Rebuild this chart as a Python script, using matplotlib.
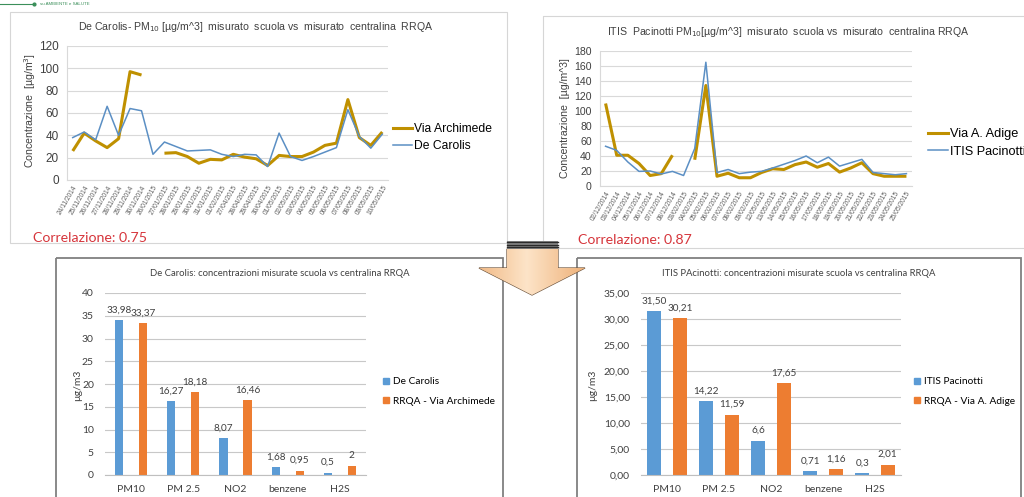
import numpy as np
import matplotlib.pyplot as plt
from matplotlib.patches import Polygon, Rectangle
from matplotlib.lines import Line2D
from matplotlib.ticker import FuncFormatter

W, H = 1024, 497

# --- top left: De Carolis daily PM10
dc_dates = ["24/11/2014", "25/11/2014", "26/11/2014", "27/11/2014", "28/11/2014",
            "29/11/2014", "30/11/2014", "26/01/2015", "27/01/2015", "28/01/2015",
            "29/01/2015", "30/01/2015", "31/01/2015", "01/02/2015", "27/04/2015",
            "28/04/2015", "29/04/2015", "30/04/2015", "01/05/2015", "02/05/2015",
            "03/05/2015", "04/05/2015", "05/05/2015", "06/05/2015", "07/05/2015",
            "08/05/2015", "09/05/2015", "10/05/2015"]
dc_archimede = [26, 42, 35, 29, 37, 97, 94, np.nan, 24, 24.5, 21, 15, 18.5, 18,
                23, 20.5, 19, 13, 22, 21, 21, 25, 31, 33, 72, 38, 31, 43]
dc_carolis = [38, 43, 36, 66, 40, 64, 62, 23, 34, 30, 26, 26.5, 27, 23,
              21, 23, 22.5, 12, 42, 21, 17.5, 21, 25, 29, 63, 39, 28.5, 41]

# --- top right: ITIS Pacinotti daily PM10
pac_dates = ["02/12/2014", "03/12/2014", "04/12/2014", "05/12/2014", "06/12/2014",
             "07/12/2014", "08/12/2014", "03/02/2015", "04/02/2015", "05/02/2015",
             "06/02/2015", "07/02/2015", "08/02/2015", "09/02/2015", "12/05/2015",
             "13/05/2015", "14/05/2015", "15/05/2015", "16/05/2015", "17/05/2015",
             "18/05/2015", "19/05/2015", "20/05/2015", "21/05/2015", "22/05/2015",
             "23/05/2015", "24/05/2015", "25/05/2015"]
pac_adige = [110, 41, 41, 30, 14, 16.5, 41, np.nan, 35, 134, 13, 17, 11, 11,
             18, 23, 22, 28.5, 32, 25, 30, 18.5, 24, 31, 16.5, 13, 13, 13]
pac_itis = [53, 47.5, 32, 19.5, 20, 16, 19.5, 14, 50, 165, 18, 22, 16.5, 18.5,
            19.5, 24, 29, 34, 40, 31, 38.5, 26.5, 31, 35.5, 18, 16.5, 15, 16.5]

# --- bottom: mean concentrations
pollutants = ["PM10", "PM 2.5", "NO2", "benzene", "H2S"]
dc_school = [33.98, 16.27, 8.07, 1.68, 0.5]
dc_station = [33.37, 18.18, 16.46, 0.95, 2]
dc_school_txt = ["33,98", "16,27", "8,07", "1,68", "0,5"]
dc_station_txt = ["33,37", "18,18", "16,46", "0,95", "2"]
pac_school = [31.50, 14.22, 6.6, 0.71, 0.3]
pac_station = [30.21, 11.59, 17.65, 1.16, 2.01]
pac_school_txt = ["31,50", "14,22", "6,6", "0,71", "0,3"]
pac_station_txt = ["30,21", "11,59", "17,65", "1,16", "2,01"]

GOLD = "#bf9000"
LBLUE = "#5b8fc4"
BAR_BLUE = "#5b9bd5"
BAR_ORANGE = "#ed7d31"
GRID = "#d9d9d9"
TXT = "#404040"
ARIAL = "Liberation Sans"
CALIBRI = "Lato"


def rect(l, t, r, b):
    return [l / W, 1 - b / H, (r - l) / W, (b - t) / H]


def fx(px):
    return px / W


def fy(py):
    return 1 - py / H


fig = plt.figure(figsize=(W / 100, H / 100), dpi=100)


def line_panel(box, dates, gold, blue, ymax, title, title_xy, ylabel, ylabel_xy,
               names, leg_xy, tick_fs, leg_fs):
    ax = fig.add_axes(rect(*box))
    x = np.arange(len(dates))
    ax.plot(x, gold, color=GOLD, lw=2.2, solid_capstyle="butt")
    ax.plot(x, blue, color=LBLUE, lw=1.1)
    ax.set_xlim(-0.5, len(dates) - 0.5)
    ax.set_ylim(0, ymax)
    ax.set_yticks(np.arange(0, ymax + 1, 20))
    ax.set_xticks(x)
    ax.set_xticklabels(dates, rotation=60, ha="right", rotation_mode="anchor",
                       fontsize=4.8, color="#606060", family=ARIAL)
    ax.tick_params(axis="both", length=0)
    ax.tick_params(axis="y", labelsize=tick_fs, labelcolor=TXT, pad=6)
    ax.tick_params(axis="x", pad=3)
    for lab in ax.get_yticklabels():
        lab.set_family(ARIAL)
    ax.grid(axis="y", color=GRID, lw=0.8)
    ax.set_axisbelow(True)
    for s in ["top", "right"]:
        ax.spines[s].set_visible(False)
    ax.spines["left"].set_color(GRID)
    ax.spines["bottom"].set_color(GRID)
    fig.text(fx(title_xy[0]), fy(title_xy[1]), title, ha="center", va="center",
             fontsize=7.6, color=TXT, family=ARIAL)
    fig.text(fx(ylabel_xy[0]), fy(ylabel_xy[1]), ylabel, ha="center", va="center",
             rotation=90, fontsize=7.6, color=TXT, family=ARIAL)
    handles = [Line2D([], [], color=GOLD, lw=2.2), Line2D([], [], color=LBLUE, lw=1.1)]
    ax.legend(handles, names, loc="center left",
              bbox_to_anchor=(fx(leg_xy[0]), fy(leg_xy[1])),
              bbox_transform=fig.transFigure, frameon=False,
              prop={"family": ARIAL, "size": leg_fs}, handlelength=1.6,
              handletextpad=0.1, labelspacing=0.45, borderpad=0, borderaxespad=0)
    return ax


line_panel((67, 46, 388, 180), dc_dates, dc_archimede, dc_carolis, 120,
           r"De Carolis- PM$_{10}$ [µg/m^3]  misurato  scuola vs  misurato  centralina  RRQA",
           (256, 27), "Concentrazione  [µg/m$^3$]", (30, 110),
           ["Via Archimede", "De Carolis"], (393, 137.5), 8.5, 8.7)

line_panel((600, 51, 912, 186), pac_dates, pac_adige, pac_itis, 180,
           r"ITIS  Pacinotti PM$_{10}$[µg/m^3]  misurato  scuola vs  misurato  centralina RRQA",
           (788, 32), "Concentrazione  [µg/m^3]", (565, 118),
           ["Via A. Adige", "ITIS Pacinotti"], (928, 143), 7.6, 9.2)


def bar_panel(box, school, station, school_txt, station_txt, width, offset,
              ymax, ystep, fmt, title, title_xy, ylabel_xy, names, leg_xy):
    ax = fig.add_axes(rect(*box))
    x = np.arange(len(pollutants))
    ax.bar(x - offset, school, width, color=BAR_BLUE)
    ax.bar(x + offset, station, width, color=BAR_ORANGE)
    for xi, v, t in zip(x - offset, school, school_txt):
        ax.annotate(t, (xi, v), xytext=(0, 4), textcoords="offset points",
                    ha="center", va="bottom", fontsize=7.2, color=TXT, family=CALIBRI)
    for xi, v, t in zip(x + offset, station, station_txt):
        ax.annotate(t, (xi, v), xytext=(0, 4), textcoords="offset points",
                    ha="center", va="bottom", fontsize=7.2, color=TXT, family=CALIBRI)
    ax.set_xlim(-0.5, len(pollutants) - 0.5)
    ax.set_ylim(0, ymax)
    ax.set_yticks(np.arange(0, ymax + 0.01, ystep))
    ax.yaxis.set_major_formatter(FuncFormatter(fmt))
    ax.set_xticks(x)
    ax.set_xticklabels(pollutants)
    ax.tick_params(axis="both", length=0, labelsize=7.5, labelcolor=TXT)
    ax.tick_params(axis="x", pad=7)
    ax.tick_params(axis="y", pad=8)
    for lab in ax.get_xticklabels() + ax.get_yticklabels():
        lab.set_family(CALIBRI)
    ax.grid(axis="y", color="#c8c8c8", lw=0.8)
    ax.set_axisbelow(True)
    for s in ["top", "right", "left"]:
        ax.spines[s].set_visible(False)
    ax.spines["bottom"].set_color("#bfbfbf")
    fig.text(fx(title_xy[0]), fy(title_xy[1]), title, ha="center", va="center",
             fontsize=6.8, color=TXT, family=CALIBRI)
    fig.text(fx(ylabel_xy[0]), fy(ylabel_xy[1]), "µg/m3", ha="center", va="center",
             rotation=90, fontsize=7.5, color=TXT, family=CALIBRI)
    handles = [Rectangle((0, 0), 1, 1, color=BAR_BLUE), Rectangle((0, 0), 1, 1, color=BAR_ORANGE)]
    ax.legend(handles, names, loc="center left",
              bbox_to_anchor=(fx(leg_xy[0]), fy(leg_xy[1])),
              bbox_transform=fig.transFigure, frameon=False,
              prop={"family": CALIBRI, "size": 7.3}, handlelength=0.6, handleheight=0.6,
              handletextpad=0.4, labelspacing=1.0, borderpad=0, borderaxespad=0)
    return ax


bar_panel((105, 293, 366, 475), dc_school, dc_station, dc_school_txt, dc_station_txt,
          0.16, 0.23, 40, 5, lambda v, p: f"{v:.0f}",
          "De Carolis: concentrazioni misurate scuola vs centralina RRQA", (280, 273),
          (78, 385), ["De Carolis", "RRQA - Via Archimede"], (383, 391.5))

bar_panel((641, 293, 901, 475), pac_school, pac_station, pac_school_txt, pac_station_txt,
          0.27, 0.245, 35, 5, lambda v, p: f"{v:.2f}".replace(".", ","),
          "ITIS PAcinotti: concentrazioni misurate scuola vs centralina RRQA", (799, 273),
          (593, 385), ["ITIS Pacinotti", "RRQA - Via A. Adige"], (914, 391.5))

# overlay: frames, arrow, header and correlation notes
ov = fig.add_axes([0, 0, 1, 1], zorder=10)
ov.set_xlim(0, W)
ov.set_ylim(H, 0)
ov.set_facecolor("none")
ov.axis("off")

ov.add_patch(Rectangle((10, 12), 497, 231, fill=False, ec="#d6d6d6", lw=0.8))
ov.add_patch(Rectangle((543, 16), 500, 232, fill=False, ec="#d6d6d6", lw=0.8))
ov.add_patch(Rectangle((56, 258), 447, 260, fill=False, ec="#808080", lw=1.3))
ov.add_patch(Rectangle((577, 258), 444, 260, fill=False, ec="#808080", lw=1.3))

ov.text(33, 238, "Correlazione: 0.75", color="#d6353b", fontsize=10.2,
        family=CALIBRI, va="center", ha="left")
ov.text(578, 240, "Correlazione: 0.87", color="#d6353b", fontsize=10.2,
        family=CALIBRI, va="center", ha="left")

ov.plot([0, 33], [4, 4], color="#3b8f5a", lw=0.8)
ov.plot([34], [4], "o", color="#3b8f5a", ms=2)
ov.text(40, 4, "su AMBIENTE e SALUTE", color="#3b8f5a", fontsize=3.2,
        va="center", ha="left", family=ARIAL)

arrow_pts = [(507, 249), (558, 249), (558, 268), (585, 268), (532, 295),
             (479, 268), (507, 268)]
arrow = Polygon(arrow_pts, closed=True, fc="none", ec="#6e5640", lw=0.9)
ov.add_patch(arrow)
grad = np.linspace(0, 1, 100)
shade = 1 - np.abs(grad - 0.45) * 1.6
light = np.array([253, 228, 200]) / 255
dark = np.array([236, 170, 110]) / 255
img = (dark[None, :] + (light - dark)[None, :] * shade[:, None].clip(0, 1))[None, :, :]
im = ov.imshow(img, extent=[479, 585, 295, 249], aspect="auto", zorder=1)
im.set_clip_path(arrow)
ov.add_patch(Rectangle((507, 241), 51, 8, fc="#8c8c8c", ec="none", zorder=2))
for yy in (242, 244.5, 247):
    ov.plot([507, 558], [yy, yy], color="#2b2b2b", lw=1.0, zorder=3)
ov.set_xlim(0, W)
ov.set_ylim(H, 0)

plt.savefig("out.png", dpi=100)
